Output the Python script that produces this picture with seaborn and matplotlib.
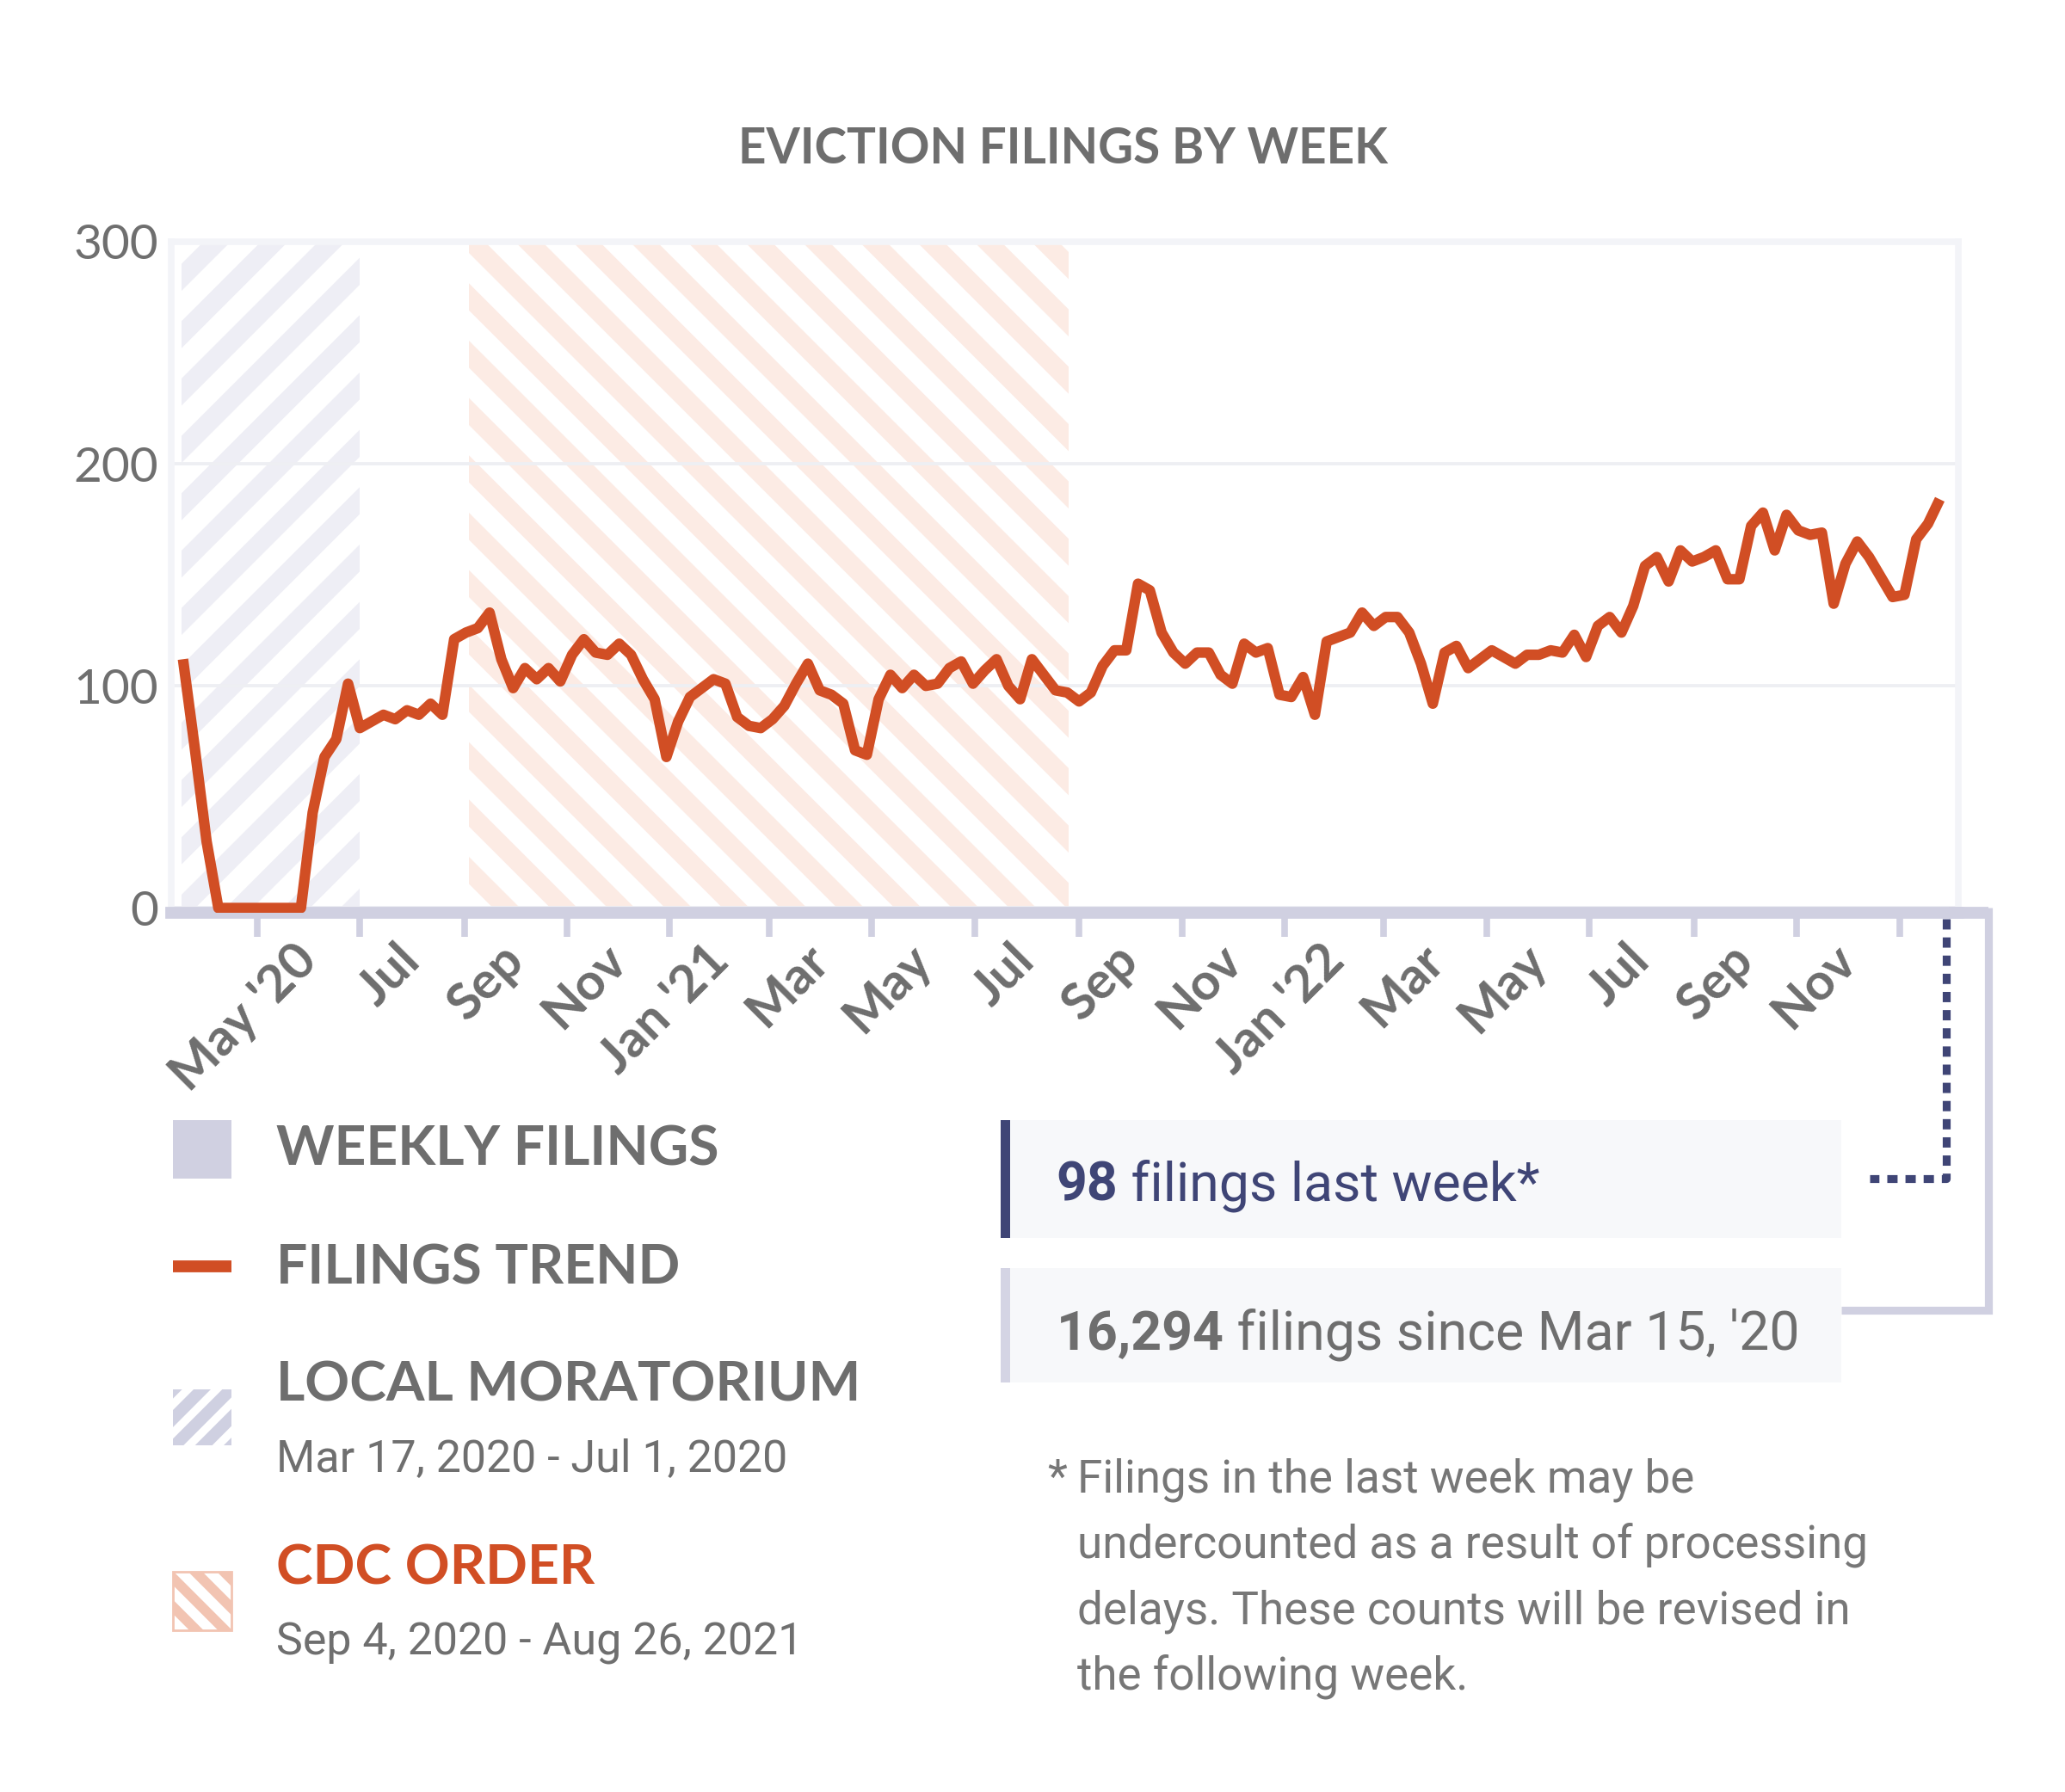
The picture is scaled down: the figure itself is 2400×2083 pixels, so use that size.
import matplotlib
matplotlib.use("Agg")
import matplotlib.pyplot as plt
import matplotlib.transforms as mtransforms
from matplotlib.patches import Rectangle
from matplotlib.lines import Line2D
import pandas as pd
import seaborn as sns

# weekly filings trend, one value per week, first week Mar 18, 2020
start_week = "2020-03-18"
filings_trend = [
    112, 72, 30, 0, 0, 0, 0, 0, 0, 0,
    0, 43, 68, 76, 101, 81, 84, 87, 85, 89,
    87, 92, 87, 121, 124, 126, 133, 112, 99, 108,
    103, 108, 102, 114, 121, 115, 114, 119, 114, 103,
    94, 68, 84, 95, 99, 103, 101, 86, 82, 81,
    85, 91, 101, 110, 98, 96, 92, 71, 69, 94,
    105, 99, 105, 100, 101, 108, 111, 101, 107, 112,
    100, 94, 112, 105, 98, 97, 93, 97, 109, 116,
    116, 146, 143, 124, 115, 110, 115, 115, 105, 101,
    119, 115, 117, 96, 95, 104, 87, 120, 122, 124,
    133, 127, 131, 131, 124, 110, 92, 115, 118, 108,
    112, 116, 113, 110, 114, 114, 116, 115, 123, 113,
    127, 131, 124, 136, 154, 158, 147, 161, 156, 158,
    161, 148, 148, 172, 178, 161, 177, 170, 168, 169,
    137, 155, 165, 158, 149, 140, 141, 166, 173, 184,
]

moratorium = ("2020-03-17", "2020-07-01")
cdc_order = ("2020-09-04", "2021-08-26")

tick_dates = ["2020-05-01", "2020-07-01", "2020-09-01", "2020-11-01",
              "2021-01-01", "2021-03-01", "2021-05-01", "2021-07-01",
              "2021-09-01", "2021-11-01", "2022-01-01", "2022-03-01",
              "2022-05-01", "2022-07-01", "2022-09-01", "2022-11-01",
              "2023-01-01"]
tick_labels = ["May '20", "Jul", "Sep", "Nov", "Jan '21", "Mar", "May", "Jul",
               "Sep", "Nov", "Jan '22", "Mar", "May", "Jul", "Sep", "Nov", ""]
y_ticks = [0, 100, 200, 300]
y_labels = ["0", "100", "200", "300"]

last_week = "98"
since_total = "16,294"

# colours
ORANGE = "#D14E24"
LAV = "#D0D0E1"
NAVY = "#3F4576"
GRAY = "#6E6E6E"
LIGHT = "#6F6F6F"

# layout grid of the reference (px)
W, H = 1568, 1361
DPI = 400
PT = (2400 / W) / DPI * 72  # points per layout px
IN = (2400 / W) / DPI       # inches per layout px


def fx(x):
    return x / W


def fy(y):
    return 1 - y / H


sns.set_theme(style="white")
plt.rcParams["font.family"] = ["Lato", "DejaVu Sans"]
plt.rcParams["hatch.linewidth"] = 4.0

fig = plt.figure(figsize=(2400 / DPI, 2083 / DPI), dpi=DPI)
fig.patch.set_facecolor("white")

ax = fig.add_axes([fx(130), fy(693), (1487 - 130) / W, (693 - 183.5) / H])

df = pd.DataFrame({
    "week": pd.date_range(start_week, periods=len(filings_trend), freq="7D"),
    "filings": filings_trend,
})


def set_hlw(patch, w):
    try:
        patch.set_hatch_linewidth(w)
    except AttributeError:
        pass


# shaded periods
span1 = ax.axvspan(pd.Timestamp(moratorium[0]), pd.Timestamp(moratorium[1]),
                   facecolor="white", edgecolor="#EEEEF5", hatch="//", lw=0, zorder=0.2)
span2 = ax.axvspan(pd.Timestamp(cdc_order[0]), pd.Timestamp(cdc_order[1]),
                   facecolor="white", edgecolor="#FCEBE4", hatch="\\\\", lw=0, zorder=0.2)
set_hlw(span1, 4.0)
set_hlw(span2, 4.0)

sns.lineplot(data=df, x="week", y="filings", ax=ax, color=ORANGE,
             linewidth=2.2, zorder=3)
trend = ax.lines[-1]
trend.set_solid_joinstyle("round")
trend.set_solid_capstyle("butt")

ax.set_xlim(pd.Timestamp("2020-03-11"), pd.Timestamp("2023-02-05"))
ax.set_ylim(-2, 300)
ax.set_xlabel("")
ax.set_ylabel("")

ax.set_yticks(y_ticks)
ax.set_yticklabels(y_labels, fontsize=37 * PT, color=LIGHT)
ax.tick_params(axis="y", length=0, pad=10 * PT)

ax.set_xticks(pd.to_datetime(tick_dates))
ax.set_xticklabels(tick_labels, rotation=45, ha="right", va="top",
                   rotation_mode="anchor", fontsize=39 * PT,
                   fontweight="bold", color=GRAY)
ax.tick_params(axis="x", bottom=True, length=18 * PT, width=5 * PT,
               color=LAV, pad=0, direction="out")
shift = mtransforms.ScaledTranslation(27 * IN, 0, fig.dpi_scale_trans)
for lab in ax.get_xticklabels():
    lab.set_transform(lab.get_transform() + shift)

ax.grid(axis="y", color="#EEEFF3", linewidth=2.5 * PT)
ax.grid(axis="x", visible=False)
ax.set_axisbelow(True)

for side in ["top", "left", "right"]:
    ax.spines[side].set_color("#F3F4F8")
    ax.spines[side].set_linewidth(5 * PT)
ax.spines["bottom"].set_color(LAV)
ax.spines["bottom"].set_linewidth(9 * PT)

# title
fig.text(fx(807), fy(124), "EVICTION FILINGS BY WEEK", ha="center", va="baseline",
         fontsize=37 * PT, fontweight="bold", color=GRAY)

# bracket from the axis to the totals box
fig.add_artist(Line2D([fx(1480), fx(1510)], [fy(693), fy(693)], transform=fig.transFigure,
                      color=LAV, lw=9 * PT, solid_capstyle="butt"))
fig.add_artist(Line2D([fx(1510), fx(1510), fx(1398)], [fy(689), fy(995), fy(995)],
                      transform=fig.transFigure, color=LAV, lw=6 * PT,
                      solid_joinstyle="miter", solid_capstyle="butt"))
# dotted pointer to the last-week box
fig.add_artist(Line2D([fx(1478), fx(1478), fx(1420)], [fy(698), fy(895), fy(895)],
                      transform=fig.transFigure, color=NAVY, lw=6 * PT,
                      linestyle=(0, (1.3, 1.0)), dash_capstyle="butt"))


def frect(x0, y0, x1, y1, **kw):
    r = Rectangle((fx(x0), fy(y1)), (x1 - x0) / W, (y1 - y0) / H,
                  transform=fig.transFigure, **kw)
    fig.add_artist(r)
    return r


# legend
frect(131, 851, 176, 895, facecolor=LAV, lw=0)
fig.add_artist(Line2D([fx(131), fx(176)], [fy(962), fy(962)], transform=fig.transFigure,
                      color=ORANGE, lw=9 * PT, solid_capstyle="butt"))
sw1 = frect(131, 1055, 176, 1098, facecolor="#CFD0E1", edgecolor="white",
            hatch="////", lw=0)
set_hlw(sw1, 1.7)
sw2 = frect(131, 1194, 176, 1238, facecolor="white", edgecolor="#F2C4B2",
            hatch="\\\\\\\\", lw=0.5)
set_hlw(sw2, 2.1)

cap_kw = dict(fontsize=42 * PT, fontweight="bold", va="baseline", ha="left")
fig.text(fx(210), fy(885), "WEEKLY FILINGS", color=GRAY, **cap_kw)
fig.text(fx(210), fy(975), "FILINGS TREND", color=GRAY, **cap_kw)
fig.text(fx(210), fy(1064), "LOCAL MORATORIUM", color=GRAY, **cap_kw)
fig.text(fx(210), fy(1203), "CDC ORDER", color=ORANGE, **cap_kw)

body = ["Roboto", "DejaVu Sans"]
fig.text(fx(210), fy(1117), "Mar 17, 2020 - Jul 1, 2020", family=body,
         fontsize=34 * PT, color=LIGHT, va="baseline")
fig.text(fx(210), fy(1257), "Sep 4, 2020 - Aug 26, 2021", family=body,
         fontsize=34 * PT, color=LIGHT, va="baseline")

# summary boxes
frect(760, 851, 1398, 940, facecolor="#F7F8FA", lw=0)
frect(760, 851, 767, 940, facecolor=NAVY, lw=0)
frect(760, 963, 1398, 1050, facecolor="#F7F8FA", lw=0)
frect(760, 963, 767, 1050, facecolor="#D4D4E4", lw=0)

renderer = fig.canvas.get_renderer()


def two_part(x, y, bold, rest, color):
    t = fig.text(fx(x), fy(y), bold, family=body, fontweight="bold",
                 fontsize=41 * PT, color=color, va="baseline")
    bb = t.get_window_extent(renderer)
    fig.text(bb.x1 / fig.bbox.width, fy(y), rest, family=body,
             fontsize=41 * PT, color=color, va="baseline")


two_part(802, 912, last_week, " filings last week*", NAVY)
two_part(802, 1025, since_total, " filings since Mar 15, '20", GRAY)

# footnote
note_kw = dict(family=body, fontsize=34.6 * PT, color="#777777", va="baseline")
fig.text(fx(795), fy(1133), "*", **note_kw)
note_lines = ["Filings in the last week may be",
              "undercounted as a result of processing",
              "delays. These counts will be revised in",
              "the following week."]
for i, line in enumerate(note_lines):
    fig.text(fx(818), fy(1133 + 50 * i), line, **note_kw)

fig.savefig("out.png", dpi=DPI, facecolor="white")
